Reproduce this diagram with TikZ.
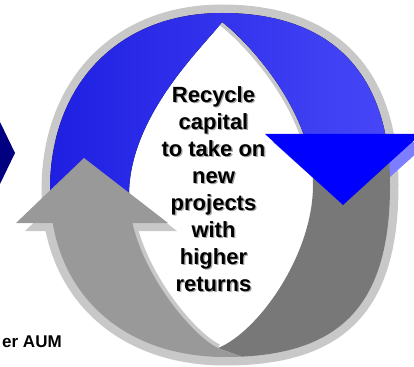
\documentclass[tikz,border=0pt]{standalone}
\usepackage{fontspec}
\setmainfont{Liberation Sans}

\definecolor{ringshadow}{RGB}{200,200,200}
\definecolor{tipglow}{RGB}{125,125,255}
\definecolor{bodyleft}{RGB}{24,24,222}
\definecolor{bodyright}{RGB}{78,78,252}
\definecolor{headblue}{RGB}{0,0,255}
\definecolor{graylight}{RGB}{153,153,153}
\definecolor{graydark}{RGB}{120,120,120}
\definecolor{navyblue}{RGB}{0,0,128}

\tikzset{
  ringband/.style={draw=ringshadow, line width=12.75pt},
  lensband/.style={draw=ringshadow, line width=6pt},
  captiontext/.style={align=center, inner sep=0pt,
    font=\fontsize{16.5pt}{20.2pt}\selectfont\bfseries},
  sidetext/.style={inner sep=0pt,
    font=\fontsize{12.75pt}{15pt}\selectfont\bfseries}
}

% outer rim of the cycle and the lens-shaped opening in its middle
\newcommand\rimpath{(222,13) .. controls (331,13) and (390,73) .. (390,185)
  .. controls (390,305) and (341,357) .. (225,357)
  .. controls (120,357) and (50,290) .. (50,190)
  .. controls (50,84) and (119,13) .. (222,13) -- cycle}
\newcommand\lenspath{(222,22) .. controls (205,45) and (129,115) .. (129,195)
  .. controls (129,260) and (190,335) .. (218,348)
  .. controls (258,332) and (313,255) .. (313,185)
  .. controls (313,110) and (246,40) .. (222,22) -- cycle}

\begin{document}
\begin{tikzpicture}[x=0.75pt,y=-0.75pt]
\useasboundingbox (0,0) rectangle (414,367);

% soft shadow around the rim
\path[ringband] \rimpath;

% shadow strips along two edges of the opening
\begin{scope}
  \clip (0,0) rectangle (414,138);
  \path[lensband] (313,185) .. controls (313,110) and (246,40) .. (222,22);
\end{scope}
\begin{scope}
  \clip (0,223) rectangle (414,367);
  \path[lensband] (129,195) .. controls (129,260) and (190,335) .. (218,348);
\end{scope}

% glow under the blue arrow head
\fill[tipglow] (273,142) -- (429,142) -- (351,212) -- cycle;

% tail of the grey arrow (darker side)
\begin{scope}[even odd rule]
  \clip \rimpath \lenspath;
  \fill[graydark] (222,160) -- (450,160) -- (450,420) -- (284,372)
    -- (218,348) -- (222,300) -- cycle;
\end{scope}

% blue arrow body
\begin{scope}[even odd rule]
  \clip \rimpath \lenspath;
  \fill[left color=bodyleft, right color=bodyright]
    (-10,-10) -- (450,-10) -- (450,134) -- (222,134) -- (222,198)
    -- (-10,198) -- cycle;
\end{scope}

% blue arrow head
\fill[headblue] (265,134) -- (421,134) -- (343,205) -- cycle;

% shadow under the grey arrow head
\fill[ringshadow] (25,231) -- (177,231) -- (93,166) -- cycle;

% grey arrow body (lighter side)
\begin{scope}[even odd rule]
  \clip \rimpath \lenspath;
  \fill[graylight] (-10,223) -- (222,223) -- (222,300) -- (218,348)
    -- (284,372) -- (-10,420) -- cycle;
\end{scope}

% grey arrow head
\fill[graylight] (16,223) -- (168,223) -- (84,158) -- cycle;

% chevron at the left edge
\fill[navyblue] (-5,122) -- (0,122) -- (15,153) -- (0,184) -- (-5,184) -- cycle;

% caption inside the cycle, with its drop shadow
\node[captiontext, text=black!35] (captionshadow) at (214.8,190.2)
  {Recycle\\capital\\to take on\\new\\projects\\with\\higher\\returns};
\node[captiontext] (caption) at (213.5,189)
  {Recycle\\capital\\to take on\\new\\projects\\with\\higher\\returns};

\node[sidetext, anchor=base east] (aum) at (62,347) {er AUM};
\end{tikzpicture}
\end{document}
